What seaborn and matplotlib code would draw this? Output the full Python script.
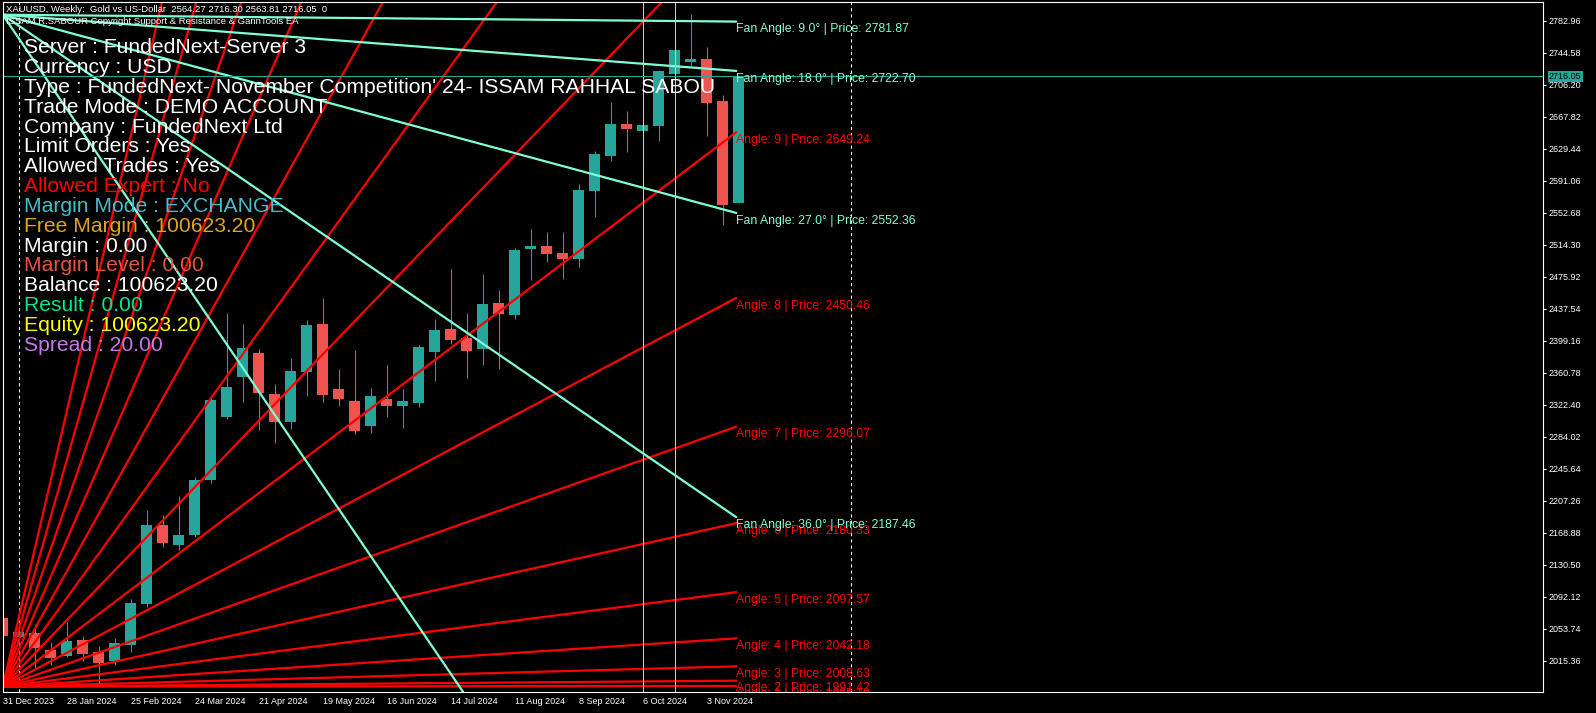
"""XAUUSD weekly chart with Gann angle / fan overlay (MT5 style)."""
import matplotlib

matplotlib.use("Agg")
import matplotlib.pyplot as plt
import numpy as np
import pandas as pd
import seaborn as sns

W, H = 1596, 713

# weekly bars, 31 Dec 2023 .. 17 Nov 2024
weeks = pd.date_range("2023-12-31", periods=47, freq="7D")
opens = [2066.5, 2044.0, 2048.6, 2028.2, 2020.9, 2040.1, 2025.7, 2014.9, 2034.1, 2083.3,
         2178.1, 2154.0, 2166.0, 2232.0, 2308.0, 2356.0, 2384.4, 2335.2, 2302.0, 2362.0,
         2419.0, 2341.0, 2326.8, 2297.0, 2329.3, 2321.2, 2324.8, 2386.0, 2413.2, 2402.4,
         2389.0, 2444.0, 2430.0, 2509.0, 2512.5, 2504.0, 2497.5, 2579.0, 2621.0, 2659.0,
         2651.0, 2657.0, 2719.4, 2733.5, 2737.0, 2686.6, 2564.27]
highs = [2079.0, 2062.0, 2059.4, 2037.8, 2061.7, 2044.9, 2033.0, 2042.5, 2089.3, 2196.1,
         2190.1, 2212.9, 2236.0, 2331.0, 2432.0, 2419.0, 2389.0, 2347.0, 2379.0, 2424.0,
         2450.0, 2365.0, 2388.0, 2342.0, 2370.0, 2341.0, 2394.0, 2425.0, 2485.0, 2432.0,
         2479.0, 2460.0, 2510.0, 2533.0, 2529.0, 2529.0, 2587.0, 2627.0, 2686.0, 2674.6,
         2671.0, 2724.0, 2758.0, 2791.0, 2751.4, 2694.0, 2716.30]
lows = [2024.0, 2013.0, 2006.6, 2010.2, 2019.7, 2015.0, 1988.6, 2010.0, 2025.7, 2079.7,
        2151.7, 2148.0, 2164.0, 2228.0, 2305.0, 2326.0, 2292.0, 2277.0, 2293.0, 2333.0,
        2326.0, 2321.0, 2287.0, 2288.0, 2308.0, 2295.0, 2320.0, 2351.0, 2395.0, 2354.0,
        2370.0, 2365.0, 2425.0, 2472.0, 2494.0, 2473.0, 2487.0, 2547.0, 2615.0, 2626.0,
        2604.0, 2639.0, 2708.0, 2729.0, 2645.0, 2538.0, 2563.81]
closes = [2045.0, 2049.5, 2030.6, 2018.6, 2038.9, 2023.3, 2012.5, 2036.5, 2084.5, 2178.1,
          2156.5, 2166.0, 2232.0, 2328.0, 2343.6, 2390.4, 2336.8, 2302.0, 2362.8, 2417.6,
          2334.4, 2329.6, 2291.2, 2332.8, 2321.2, 2326.8, 2391.6, 2412.0, 2400.0, 2386.8,
          2443.0, 2431.0, 2508.0, 2512.5, 2503.5, 2497.0, 2580.0, 2623.0, 2659.0, 2653.5,
          2658.0, 2722.5, 2747.8, 2737.0, 2684.6, 2562.0, 2716.05]
last_price = 2716.05

tick_bars = [0, 4, 8, 12, 16, 20, 24, 28, 32, 36, 40, 44]
tick_labels = ["31 Dec 2023", "28 Jan 2024", "25 Feb 2024", "24 Mar 2024", "21 Apr 2024",
               "19 May 2024", "16 Jun 2024", "14 Jul 2024", "11 Aug 2024", "8 Sep 2024",
               "6 Oct 2024", "3 Nov 2024"]
price_ticks = [2015.36, 2053.74, 2092.12, 2130.50, 2168.88, 2207.26, 2245.64, 2284.02,
               2322.40, 2360.78, 2399.16, 2437.54, 2475.92, 2514.30, 2552.68, 2591.06,
               2629.44, 2667.82, 2706.20, 2744.58, 2782.96]

# Gann angle lines (red) and fan lines (cyan): start/end bar and prices
line_start_bar = 0
line_end_bar = 45.85
gann_origin = 1984.2
gann_angles = [1, 2, 3, 4, 5, 6, 7, 8, 9, 10, 11, 12, 13, 14, 15, 16]
gann_prices = [1985.10, 1991.42, 2008.63, 2042.18, 2097.57, 2180.33, 2296.07, 2450.46,
               2649.24, 2898.0, 3203.0, 3569.0, 4002.0, 4509.0, 5096.0, 5767.0]
fan_origin = 2790.1
fan_angles = [9.0, 18.0, 27.0, 36.0, 45.0]
fan_prices = [2781.87, 2722.70, 2552.36, 2187.46, 1496.0]

separator_bars = [1, 53]
marker_bars = [40, 42]

header = "XAUUSD, Weekly:  Gold vs US-Dollar  2564.27 2716.30 2563.81 2716.05  0"
copyright_line = "ISSAM R.SABOUR Copyright Support & Resistance & GannTools EA"
info_lines = [
    "Server : FundedNext-Server 3",
    "Currency : USD",
    "Type : FundedNext- November Competition' 24- ISSAM RAHHAL SABOU",
    "Trade Mode : DEMO ACCOUNT",
    "Company : FundedNext Ltd",
    "Limit Orders : Yes",
    "Allowed Trades : Yes",
    "Allowed Expert : No",
    "Margin Mode : EXCHANGE",
    "Free Margin : 100623.20",
    "Margin : 0.00",
    "Margin Level : 0.00",
    "Balance : 100623.20",
    "Result : 0.00",
    "Equity : 100623.20",
    "Spread : 20.00",
]
info_colors = ["white", "white", "white", "white", "white", "white", "white", "#ff0000",
               "#46bccb", "#daa520", "white", "#e5553e", "white", "#00e88c", "#ffff00",
               "#c47ae6"]

TEAL = "#26a69a"
RED = "#ef5350"
FAN = "#7fffd4"

sns.set_theme(style="dark", rc={
    "figure.facecolor": "black", "axes.facecolor": "black",
    "axes.edgecolor": "white", "text.color": "white",
    "xtick.color": "white", "ytick.color": "white",
})
plt.rcParams["font.family"] = ["Liberation Sans", "DejaVu Sans"]

fig = plt.figure(figsize=(W / 100, H / 100), dpi=100)
left, right, top, bottom = 2.7, 1543.3, 2.3, 691.7
ax = fig.add_axes([left / W, (H - bottom) / H, (right - left) / W, (bottom - top) / H])
ax.set_xlim(0, (right - left) / 16)
ax.set_ylim(1978.2, 2805.0)

# candles
bars = np.arange(len(weeks))
o = np.array(opens)
c = np.array(closes)
cols = [TEAL if cc >= oo else RED for oo, cc in zip(o, c)]
ax.vlines(bars, lows, highs, colors=cols, lw=0.75, zorder=2)
ax.bar(bars, np.maximum(np.abs(c - o), 0.8), bottom=np.minimum(o, c), width=0.67,
       color=cols, linewidth=0, zorder=3)

# separators and vertical markers
for b in separator_bars:
    ax.axvline(b, color="white", lw=0.75, ls=(0, (3, 3)), zorder=1)
for b in marker_bars:
    ax.axvline(b, color="#c8c8c8", lw=0.75, zorder=5)

# Gann / fan lines through seaborn
rows = []
for a, p in zip(gann_angles, gann_prices):
    rows.append({"line": f"angle {a}", "kind": "gann", "bar": line_start_bar, "price": gann_origin})
    rows.append({"line": f"angle {a}", "kind": "gann", "bar": line_end_bar, "price": p})
for a, p in zip(fan_angles, fan_prices):
    rows.append({"line": f"fan {a}", "kind": "fan", "bar": line_start_bar, "price": fan_origin})
    rows.append({"line": f"fan {a}", "kind": "fan", "bar": line_end_bar, "price": p})
lines = pd.DataFrame(rows)
sns.lineplot(data=lines, x="bar", y="price", hue="kind", units="line", estimator=None,
             palette={"gann": "#ff0000", "fan": FAN}, linewidth=1.6, legend=False,
             ax=ax, zorder=4)

for a, p in zip(gann_angles, gann_prices):
    ax.annotate(f"Angle: {a} | Price: {p:.2f}", xy=(line_end_bar, p), xytext=(0, -1.2),
                textcoords="offset points", color="#ff0000", fontsize=8.8,
                ha="left", va="top", clip_on=True, zorder=6)
for a, p in zip(fan_angles, fan_prices):
    ax.annotate(f"Fan Angle: {a:.1f}° | Price: {p:.2f}", xy=(line_end_bar, p),
                xytext=(0, -1.2), textcoords="offset points", color=FAN, fontsize=8.8,
                ha="left", va="top", clip_on=True, zorder=6)

# last price line and tag
ax.axhline(last_price, color=TEAL, lw=0.8, zorder=5)
ax.annotate(f"{last_price:.2f}", xy=(1.0, last_price), xycoords=("axes fraction", "data"),
            xytext=(4, 0), textcoords="offset points", ha="left", va="center",
            fontsize=6.5, color="black", annotation_clip=False,
            bbox=dict(boxstyle="square,pad=0.15", facecolor=TEAL, edgecolor="none"))

# axes
ax.set_xlabel("")
ax.set_ylabel("")
ax.grid(False)
ax.set_xticks(tick_bars, tick_labels)
for lbl in ax.get_xticklabels():
    lbl.set_ha("left")
ax.set_yticks(price_ticks, [f"{v:.2f}" for v in price_ticks])
ax.yaxis.tick_right()
ax.tick_params(axis="both", colors="white", labelsize=6.5, length=2.5, width=0.7,
               direction="out", pad=1.2)
ax.tick_params(axis="x", pad=1.5)
for s in ax.spines.values():
    s.set_color("white")
    s.set_linewidth(0.8)
    s.set_zorder(10)

# header and info panel
fig.text(6 / W, 1 - 12.5 / H, header, fontsize=6.8, color="white", va="baseline")
fig.text(6 / W, 1 - 24 / H, copyright_line, fontsize=6.8, color="white", va="baseline")
for i, (t, col) in enumerate(zip(info_lines, info_colors)):
    fig.text(24 / W, 1 - (53.3 + i * 19.83) / H, t, fontsize=15.2, color=col,
             va="baseline")

fig.savefig("out.png", dpi=100, facecolor="black")
